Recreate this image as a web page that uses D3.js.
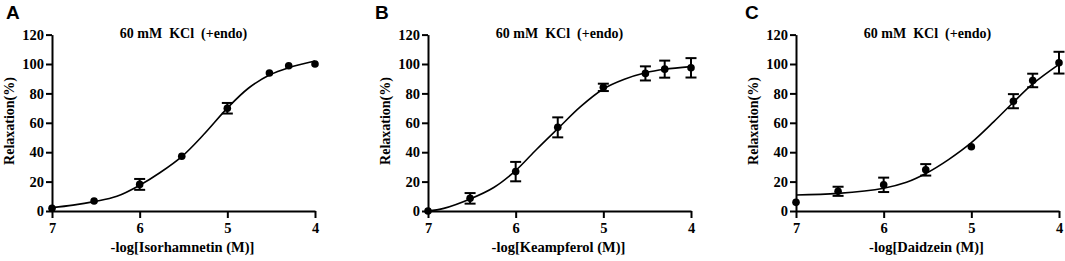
<!DOCTYPE html>
<html>
<head>
<meta charset="utf-8">
<script src="https://cdn.jsdelivr.net/npm/d3@7"></script>
<style>
  body { margin: 0; background: #fff; }
  svg text { font-family: "Liberation Serif", "Times New Roman", serif; font-weight: bold; fill: #000; }
</style>
</head>
<body>
<div id="chart"></div>
<script>
// -log[concentration] for every dose point (same in the three panels)
const doses = [7, 6.52, 6, 5.52, 5, 4.52, 4.3, 4];

// mean relaxation (%) and SEM
const isorMean = [1.8, 6.8, 18.1, 37.2, 69.9, 93.9, 98.8, 100];
const isorSem  = [0, 0, 3.7, 0, 3.6, 0, 0, 0];
const keamMean = [0, 8.6, 26.8, 56.9, 84.1, 93.6, 96.5, 97.4];
const keamSem  = [0, 3.6, 6.6, 6.8, 2.5, 4.8, 5.8, 6.6];
const daidMean = [5.9, 13.4, 17.8, 28, 43.7, 74.7, 88.8, 100.9];
const daidSem  = [0, 3.1, 4.9, 3.9, 0, 4.8, 4.6, 7.4];

// fitted curves
const isorFitX = [7, 6.76, 6.52, 6.26, 6, 5.77, 5.52, 5.27, 5, 4.76, 4.52, 4.3, 4];
const isorFitY = [2.3, 4, 6.4, 10, 17.5, 26, 37, 52, 70, 83.5, 92.5, 97.5, 102];
const keamFitX = [7, 6.82, 6.52, 6.25, 6, 5.76, 5.52, 5.26, 5, 4.76, 4.52, 4.3, 4];
const keamFitY = [0, 1.8, 8.2, 16, 27.5, 42, 56, 71, 83, 89.6, 94, 96.4, 98.2];
const daidFitX = [7, 6.52, 6, 5.74, 5.52, 5.26, 5, 4.74, 4.52, 4.3, 4];
const daidFitY = [10.9, 12, 15.5, 19.5, 25.5, 35, 46.5, 61, 74, 86.5, 99.8];

const panelLetters = ["A", "B", "C"];
const drugNames = ["Isorhamnetin", "Keampferol", "Daidzein"];
const titleText = "60 mM  KCl  (+endo)";
const yLabel = "Relaxation(%)";
const xTicks = [7, 6, 5, 4];
const yTicks = [0, 20, 40, 60, 80, 100, 120];

const panels = [
  {mean: isorMean, sem: isorSem, fx: isorFitX, fy: isorFitY},
  {mean: keamMean, sem: keamSem, fx: keamFitX, fy: keamFitY},
  {mean: daidMean, sem: daidSem, fx: daidFitX, fy: daidFitY}
];

// layout: left edge of each plot area (x = 7) and of each letter
const plotLeft = [52, 428, 796];
const letterLeft = [6, 375, 745];
const plotWidth = 263;
const yTop = 34.6, yBottom = 211;

const svg = d3.select("#chart").append("svg")
    .attr("width", 1065)
    .attr("height", 261);

panels.forEach((p, i) => {
    let x = d3.scaleLinear().domain([7, 4]).range([plotLeft[i], plotLeft[i] + plotWidth]);
    let y = d3.scaleLinear().domain([0, 120]).range([yBottom, yTop]);
    let g = svg.append("g");

    // panel letter
    svg.append("text")
        .text(panelLetters[i])
        .attr("x", letterLeft[i])
        .attr("y", 18.5)
        .style("font-family", "'Liberation Sans', Arial, sans-serif")
        .style("font-size", "19px");

    // axes
    let xAxis = g.append("g")
        .attr("transform", "translate(0," + yBottom + ")")
        .call(d3.axisBottom(x).tickValues(xTicks).tickFormat(d3.format("d"))
            .tickSize(7).tickSizeOuter(0).tickPadding(5));
    let yAxis = g.append("g")
        .attr("transform", "translate(" + plotLeft[i] + ",0)")
        .call(d3.axisLeft(y).tickValues(yTicks).tickSize(6).tickSizeOuter(0).tickPadding(2));
    [xAxis, yAxis].forEach(a => {
        a.select(".domain").attr("stroke", "#000").attr("stroke-width", 2);
        a.selectAll(".tick line").attr("stroke", "#000").attr("stroke-width", 2);
        a.selectAll(".tick text")
            .style("font-family", "'Liberation Serif', 'Times New Roman', serif")
            .style("font-weight", "bold")
            .style("font-size", "14.5px");
    });

    // title
    g.append("text")
        .text(titleText)
        .attr("x", plotLeft[i] + plotWidth / 2)
        .attr("y", 38)
        .attr("text-anchor", "middle")
        .style("white-space", "pre")
        .style("font-size", "14px");

    // axis labels
    g.append("text")
        .text("-log[" + drugNames[i] + " (M)]")
        .attr("x", plotLeft[i] + plotWidth / 2 - 1)
        .attr("y", 252)
        .attr("text-anchor", "middle")
        .style("font-size", "14.5px");
    g.append("text")
        .text(yLabel)
        .attr("transform", "translate(" + (plotLeft[i] - 38.5) + ",121) rotate(-90)")
        .attr("text-anchor", "middle")
        .style("font-size", "14px");

    // fitted curve
    let fit = p.fx.map((d, k) => [d, p.fy[k]]);
    g.append("path")
        .datum(fit)
        .attr("fill", "none")
        .attr("stroke", "#000")
        .attr("stroke-width", 1.6)
        .attr("d", d3.line().x(d => x(d[0])).y(d => y(d[1])).curve(d3.curveCatmullRom.alpha(0.5)));

    // error bars
    let pts = doses.map((d, k) => ({x: d, m: p.mean[k], s: p.sem[k]}));
    let eb = g.selectAll(".eb").data(pts.filter(d => d.s > 0)).enter().append("g");
    eb.append("line")
        .attr("x1", d => x(d.x)).attr("x2", d => x(d.x))
        .attr("y1", d => y(d.m - d.s)).attr("y2", d => y(d.m + d.s))
        .attr("stroke", "#000").attr("stroke-width", 2);
    [-1, 1].forEach(sg => {
        eb.append("line")
            .attr("x1", d => x(d.x) - 5.5).attr("x2", d => x(d.x) + 5.5)
            .attr("y1", d => y(d.m + sg * d.s)).attr("y2", d => y(d.m + sg * d.s))
            .attr("stroke", "#000").attr("stroke-width", 2);
    });

    // points
    g.selectAll("circle").data(pts).enter().append("circle")
        .attr("cx", d => x(d.x))
        .attr("cy", d => y(d.m))
        .attr("r", 3.8)
        .attr("fill", "#000");
});
</script>
</body>
</html>
